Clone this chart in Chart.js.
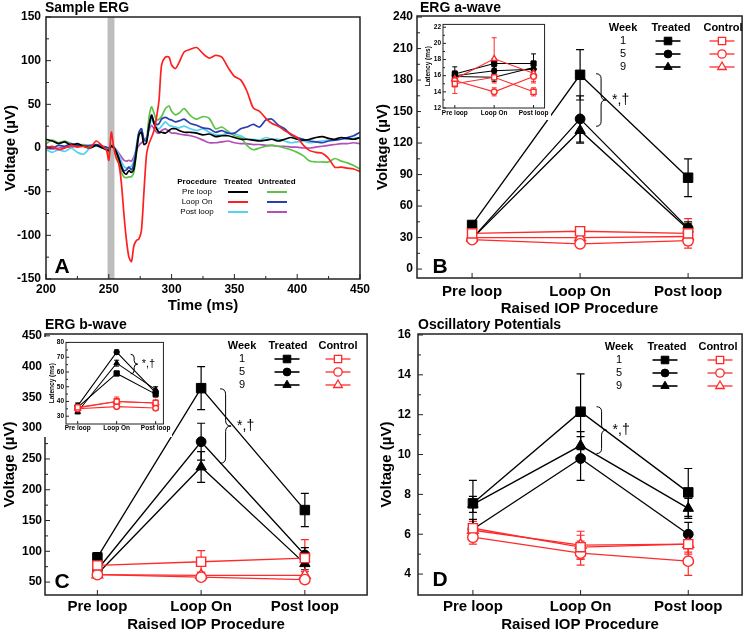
<!DOCTYPE html>
<html>
<head>
<meta charset="utf-8">
<script src="https://cdn.jsdelivr.net/npm/chart.js"></script>
<style>
body{margin:0;background:#fff;}
#wrap{position:relative;width:750px;height:632px;overflow:hidden;background:#fff;}
canvas{position:absolute;}
</style>
</head>
<body>
<div id="wrap">
<canvas id="pA" width="375" height="316" style="left:0;top:0"></canvas>
<canvas id="pB" width="375" height="316" style="left:375px;top:0"></canvas>
<canvas id="pC" width="375" height="316" style="left:0;top:316px"></canvas>
<canvas id="pD" width="375" height="316" style="left:375px;top:316px"></canvas>
<canvas id="iB" width="130" height="101" style="left:421px;top:19px;background:#fff"></canvas>
<canvas id="iC" width="128" height="100" style="left:44px;top:337px;background:#fff"></canvas>
</div>
<script>
// ---- panel A: sample ERG traces (µV) ----
const timeMs = [200,205,210,215,220,225,230,235,240,245,248,250,252,254,256,258,260,262,264,266,268,270,272,274,276,278,280,282,284,286,288,290,292,295,298,300,303,306,310,315,320,325,330,335,340,345,350,355,360,365,370,375,380,385,390,395,400,405,410,415,420,425,430,435,440,445,450];
const preTreated    = [10,8,5,7,3,5,2,0,3,0,-2,-3,2,0,-5,-12,-22,-28,-30,-26,-28,-24,-5,15,18,4,6,25,37,28,22,18,18,17,20,22,22,20,18,18,17,15,16,13,14,14,12,10,10,9,8,9,10,8,10,12,10,9,10,12,13,11,10,12,11,10,12];
const loopTreated   = [0,2,-2,0,3,1,2,0,8,2,-2,-14,18,0,-12,-18,-40,-75,-105,-125,-130,-112,-106,-104,-94,-50,-8,5,12,20,35,55,95,104,104,95,91,98,110,113,115,108,103,106,104,92,82,78,65,46,42,34,28,25,20,16,12,3,-3,-5,-6,-12,-22,-22,-23,-24,-27];
const postTreated   = [-2,-5,-2,-4,0,-5,-7,0,2,0,-1,-2,2,0,-3,-8,-15,-21,-23,-22,-21,-14,2,18,21,8,10,22,33,28,24,22,25,30,26,25,24,23,25,22,20,22,18,15,15,17,16,14,10,10,9,12,10,10,8,6,7,8,6,7,8,9,9,10,10,11,12];
const preUntreated  = [5,9,6,8,5,3,4,2,3,1,0,-8,4,0,-8,-18,-28,-33,-34,-33,-33,-28,-5,16,22,8,10,35,47,40,32,33,36,45,48,42,38,40,45,37,33,36,34,22,24,19,14,12,3,-2,0,2,3,2,0,-2,-5,-9,-15,-16,-16,-16,-12,-15,-17,-20,-24];
const loopUntreated = [2,0,3,2,5,3,2,3,4,2,1,0,2,1,-4,-12,-20,-26,-25,-22,-25,-18,0,18,22,10,8,25,38,30,27,28,33,35,33,32,30,31,33,28,26,23,22,18,20,17,17,22,24,27,24,32,33,26,22,15,12,10,8,7,6,8,9,10,12,14,18];
const postUntreated = [0,-1,0,1,1,2,3,2,3,1,-2,-2,3,1,-2,-6,-10,-14,-15,-14,-15,-10,-2,3,6,8,12,20,26,22,18,17,20,22,19,17,17,16,15,14,12,9,6,6,7,8,6,5,5,4,4,3,3,2,2,1,1,0,0,1,2,3,4,5,5,6,5];
const ergTicksX = [200,250,300,350,400,450];
const ergTicksY = [-150,-100,-50,0,50,100,150];
const stimulus = [249,254.5];

// ---- panels B–D: weeks 1, 5, 9 ----
const steps = ['Pre loop','Loop On','Post loop'];
const weeks = ['1','5','9'];

const aTreated    = [[42,185,87],[29,143,39],[29,132,38]];
const aTreatedErr = [[3,24,18],[3,22,6],[3,12,5]];
const aControl    = [[34,36,34],[28,24,27],[30,30,31]];
const aControlErr = [[3,3,14],[3,3,4],[3,3,5]];
const aTicks = [0,30,60,90,120,150,180,210,240];

const aLatTreated    = [[16.2,17.5,17.5],[16.0,16.6,16.8],[15.9,15.8,17.0]];
const aLatTreatedErr = [[0.9,0.6,1.2],[0.6,0.5,0.9],[0.6,0.5,0.8]];
const aLatControl    = [[15.0,15.8,14.0],[15.4,14.0,15.9],[15.6,18.1,16.3]];
const aLatControlErr = [[1.2,0.7,0.5],[0.8,0.5,0.8],[0.8,2.6,1.0]];
const aLatTicks = [12,14,16,18,20,22];

const bTreated    = [[90,365,167],[70,278,94],[63,237,80]];
const bTreatedErr = [[8,35,27],[8,30,12],[6,25,10]];
const bControl    = [[77,83,89],[62,58,54],[62,61,61]];
const bControlErr = [[6,18,30],[5,5,6],[5,5,6]];
const bTicks = [50,100,150,200,250,300,350,400,450];

const bLatTreated    = [[36,59,45],[37,73.5,46],[33,66,48]];
const bLatTreatedErr = [[2,1.5,2],[2,1.5,2],[1.5,2,2]];
const bLatControl    = [[36,40,39],[35,36.5,35.5],[35.5,40,39]];
const bLatControlErr = [[2,3,2],[1.5,1.5,1.5],[1.5,2,1.5]];
const bLatTicks = [30,40,50,60,70,80];

const opTreated    = [[7.55,12.15,8.1],[6.25,9.8,6.0],[7.5,10.45,7.3]];
const opTreatedErr = [[1.15,1.9,1.2],[0.5,1.1,0.6],[0.4,0.7,0.5]];
const opControl    = [[6.3,5.35,5.5],[5.85,5.05,4.65],[6.2,5.45,5.5]];
const opControlErr = [[0.35,0.6,0.5],[0.35,0.6,0.72],[0.3,0.7,0.4]];
const opTicks = [4,6,8,10,12,14,16];

const FONT = '"Liberation Sans", Arial, sans-serif';
Chart.defaults.font.family = FONT;
Chart.defaults.color = '#000';
Chart.defaults.animation = false;

const RED = '#ff2a2a';
const styles = ['rect','circle','triangle'];

function range(a, b, s) { const r = []; for (let v = a; v <= b + 1e-9; v += s) r.push(+v.toFixed(3)); return r; }

function mark(ctx, style, r, x, y) {
  ctx.beginPath();
  if (style === 'rect') { const s = r * Math.SQRT1_2; ctx.rect(x - s, y - s, 2 * s, 2 * s); }
  else if (style === 'circle') ctx.arc(x, y, r, 0, Math.PI * 2);
  else { ctx.moveTo(x, y - r); ctx.lineTo(x + r * 0.866, y + r / 2); ctx.lineTo(x - r * 0.866, y + r / 2); ctx.closePath(); }
  ctx.fill(); ctx.stroke();
}

function markerSets(tr, trErr, ctl, ctlErr, k) {
  const bR = {rect: 6.7, circle: 4.9, triangle: 6}, rR = {rect: 6.5, circle: 5.2, triangle: 6.2};
  const out = [];
  ctl.forEach((vals, j) => out.push({
    data: vals.map((v, i) => ({x: i, y: v})), err: ctlErr[j],
    borderColor: RED, borderWidth: 1.3 * Math.max(k, 0.8), pointStyle: styles[j],
    pointRadius: rR[styles[j]] * k, pointBackgroundColor: '#fff', pointBorderColor: RED, pointBorderWidth: 1.4
  }));
  tr.forEach((vals, j) => out.push({
    data: vals.map((v, i) => ({x: i, y: v})), err: trErr[j],
    borderColor: '#000', borderWidth: 1.3 * Math.max(k, 0.8), pointStyle: styles[j],
    pointRadius: bR[styles[j]] * k, pointBackgroundColor: '#000', pointBorderColor: '#000', pointBorderWidth: 1
  }));
  return out;
}

function drawBrace(ctx, x, y1, y2, w) {
  const ym = (y1 + y2) / 2;
  ctx.beginPath();
  ctx.moveTo(x, y1);
  ctx.quadraticCurveTo(x + w, y1, x + w, y1 + w);
  ctx.lineTo(x + w, ym - w);
  ctx.quadraticCurveTo(x + w, ym, x + 2 * w, ym);
  ctx.quadraticCurveTo(x + w, ym, x + w, ym + w);
  ctx.lineTo(x + w, y2 - w);
  ctx.quadraticCurveTo(x + w, y2, x, y2);
  ctx.stroke();
}

function decor(o) {
  return {
    id: 'decor',
    beforeDatasetsDraw(chart) {
      const {ctx, chartArea: ca, scales: {x, y}} = chart;
      ctx.save();
      if (o.band) {
        const x1 = x.getPixelForValue(o.band[0]), x2 = x.getPixelForValue(o.band[1]);
        ctx.fillStyle = '#bdbdbd';
        ctx.fillRect(x1, ca.top, x2 - x1, ca.bottom - ca.top);
      }
      const cap = o.cap || 4;
      chart.data.datasets.forEach(ds => {
        if (!ds.err) return;
        ctx.strokeStyle = ds.borderColor; ctx.lineWidth = o.errW || 1.2;
        ds.data.forEach((p, i) => {
          const px = x.getPixelForValue(p.x);
          const t = y.getPixelForValue(p.y + ds.err[i]), b = y.getPixelForValue(p.y - ds.err[i]);
          ctx.beginPath();
          ctx.moveTo(px, t); ctx.lineTo(px, b);
          ctx.moveTo(px - cap, t); ctx.lineTo(px + cap, t);
          ctx.moveTo(px - cap, b); ctx.lineTo(px + cap, b);
          ctx.stroke();
        });
      });
      ctx.restore();
    },
    afterDraw(chart) {
      const {ctx, chartArea: ca, scales: {x, y}} = chart;
      ctx.save();
      ctx.strokeStyle = '#222'; ctx.lineWidth = o.frameW || 1.5;
      ctx.strokeRect(ca.left, ca.top, ca.right - ca.left, ca.bottom - ca.top);
      ctx.lineWidth = 1;
      const tl = o.tickLen || [5, 3];
      const line = (a, b, c, d) => { ctx.beginPath(); ctx.moveTo(a, b); ctx.lineTo(c, d); ctx.stroke(); };
      (o.yMajor || []).forEach(v => { const p = y.getPixelForValue(v); line(ca.left, p, ca.left + tl[0], p); });
      (o.yMinor || []).forEach(v => { const p = y.getPixelForValue(v); line(ca.left, p, ca.left + tl[1], p); });
      (o.xMajor || []).forEach(v => { const p = x.getPixelForValue(v); line(p, ca.bottom, p, ca.bottom - tl[0]); });
      (o.xMinor || []).forEach(v => { const p = x.getPixelForValue(v); line(p, ca.bottom, p, ca.bottom - tl[1]); });
      ctx.fillStyle = '#000';
      ctx.textBaseline = 'middle';
      if (o.title) {
        ctx.textAlign = 'left'; ctx.font = 'bold 14px ' + FONT;
        ctx.fillText(o.title[0], o.title[1], o.title[2]);
      }
      if (o.letter) {
        ctx.textAlign = 'center'; ctx.font = 'bold 21px ' + FONT;
        ctx.fillText(o.letter[0], o.letter[1], o.letter[2]);
      }
      if (o.brace) {
        const B = o.brace, bx = x.getPixelForValue(1) + B.dx;
        ctx.strokeStyle = '#000'; ctx.lineWidth = 1;
        drawBrace(ctx, bx, y.getPixelForValue(B.vals[0]), y.getPixelForValue(B.vals[1]), B.w);
        ctx.textAlign = 'left'; ctx.font = B.font + 'px ' + FONT;
        ctx.fillText('*,\u2020', bx + 2 * B.w + B.gap, (y.getPixelForValue(B.vals[0]) + y.getPixelForValue(B.vals[1])) / 2);
      }
      if (o.legend) {
        const L = o.legend, ds = chart.data.datasets;
        ctx.textAlign = 'center'; ctx.font = 'bold 11px ' + FONT;
        ctx.fillText('Week', L.wx, L.hy); ctx.fillText('Treated', L.tx, L.hy); ctx.fillText('Control', L.cx, L.hy);
        weeks.forEach((w, i) => {
          const ry = L.rows[i];
          ctx.fillStyle = '#000'; ctx.font = '11px ' + FONT; ctx.fillText(w, L.wx, ry);
          const blk = ds[3 + i], red = ds[i];
          ctx.lineWidth = 1.6; ctx.strokeStyle = '#000'; line(L.sx - 12.5, ry, L.sx + 12.5, ry);
          ctx.fillStyle = '#000'; ctx.lineWidth = 1; mark(ctx, blk.pointStyle, blk.pointRadius * 0.8, L.sx, ry);
          ctx.strokeStyle = RED; ctx.lineWidth = 1.3; line(L.rx - 12.5, ry, L.rx + 12.5, ry);
          ctx.fillStyle = '#fff'; ctx.lineWidth = 1.3; mark(ctx, red.pointStyle, red.pointRadius * 0.8, L.rx, ry);
          ctx.fillStyle = '#000';
        });
      }
      if (o.ergLegend) o.ergLegend(ctx, chart, line);
      ctx.restore();
    }
  };
}

function panel(id, o) {
  return new Chart(document.getElementById(id), {
    type: 'line',
    data: {datasets: o.datasets},
    options: {
      responsive: false,
      animation: false,
      events: [],
      layout: {padding: o.pad},
      plugins: {legend: {display: false}, tooltip: {enabled: false}},
      scales: {
        x: {
          type: 'linear', min: o.xRange[0], max: o.xRange[1],
          afterBuildTicks: ax => { ax.ticks = o.xTicks.map(v => ({value: v})); },
          afterFit: ax => { ax.height = o.xH; },
          grid: {display: false, drawTicks: false}, border: {display: false},
          ticks: {autoSkip: false, maxRotation: 0, padding: o.xPad, color: '#000',
                  font: {size: o.tickFont[0], weight: 'bold', lineHeight: 1}, callback: o.xFmt || (v => v)},
          title: {display: !!o.xTitle, text: o.xTitle, color: '#000',
                  font: {size: o.titleFont, weight: 'bold', lineHeight: 1}, padding: {top: 0, bottom: o.xTitlePad || 0}}
        },
        y: {
          type: 'linear', min: o.yRange[0], max: o.yRange[1],
          afterBuildTicks: ax => { ax.ticks = o.yTicks.map(v => ({value: v})); },
          afterFit: ax => { ax.width = o.yW; },
          grid: {display: false, drawTicks: false}, border: {display: false},
          ticks: {autoSkip: false, padding: o.yPad, color: '#000', font: {size: o.tickFont[1], weight: 'bold', lineHeight: 1}},
          title: {display: true, text: o.yTitle, color: '#000',
                  font: {size: o.yTitleFont || o.titleFont, weight: 'bold', lineHeight: 1}, padding: {top: o.yTitlePad || 0, bottom: 0}}
        }
      }
    },
    plugins: [decor(o)]
  });
}

const stepFmt = v => steps[v];

// ---- A ----
const traces = [
  [loopTreated, '#ff1f1f'], [preTreated, '#000000'], [loopUntreated, '#2b3fae'],
  [postTreated, '#55d2ee'], [preUntreated, '#5cc444'], [postUntreated, '#b24fb8']
];
panel('pA', {
  datasets: traces.map(([vals, c]) => ({
    data: vals.map((v, i) => ({x: timeMs[i], y: v})),
    borderColor: c, borderWidth: 1.7, pointRadius: 0, tension: 0.25, fill: false
  })),
  pad: {left: 0, right: 12, top: 17, bottom: 0}, yW: 46, xH: 37, yPad: 5, xPad: 5,
  tickFont: [12, 12], titleFont: 15, yTitlePad: 3, xTitlePad: 3,
  xRange: [200, 450], xTicks: ergTicksX, yRange: [-150, 150], yTicks: ergTicksY,
  xTitle: 'Time (ms)', yTitle: 'Voltage (\u00b5V)', band: stimulus,
  yMajor: ergTicksY, yMinor: range(-125, 125, 50), xMajor: ergTicksX, xMinor: range(225, 425, 50),
  title: ['Sample ERG', 45, 8], letter: ['A', 62, 267],
  ergLegend(ctx, chart, line) {
    ctx.textAlign = 'center'; ctx.fillStyle = '#000';
    ctx.font = 'bold 8px ' + FONT;
    ctx.fillText('Procedure', 197, 182); ctx.fillText('Treated', 238, 182); ctx.fillText('Untreated', 277, 182);
    ctx.font = '8px ' + FONT;
    const rowsY = [192, 202, 212];
    const tcol = ['#000000', '#ff1f1f', '#55d2ee'], ucol = ['#5cc444', '#2b3fae', '#b24fb8'];
    steps.forEach((s, i) => {
      ctx.fillStyle = '#000'; ctx.fillText(s, 197, rowsY[i]);
      ctx.lineWidth = 2;
      ctx.strokeStyle = tcol[i]; line(228, rowsY[i], 248, rowsY[i]);
      ctx.strokeStyle = ucol[i]; line(267, rowsY[i], 287, rowsY[i]);
    });
  }
});

// ---- B ----
panel('pB', {
  datasets: markerSets(aTreated, aTreatedErr, aControl, aControlErr, 1),
  pad: {left: 0, right: 4, top: 16, bottom: 0}, yW: 42, xH: 38, yPad: 4, xPad: 6,
  tickFont: [15, 12], titleFont: 15, yTitlePad: 0, xTitlePad: 0,
  xRange: [-0.51, 2.5], xTicks: [0, 1, 2], xFmt: stepFmt, yRange: [-8.5, 241], yTicks: aTicks,
  xTitle: 'Raised IOP Procedure', yTitle: 'Voltage (\u00b5V)',
  yMajor: aTicks, yMinor: range(15, 225, 30), xMajor: [0, 1, 2],
  title: ['ERG a-wave', 45, 8], letter: ['B', 65, 267],
  brace: {vals: [186, 136], dx: 16, w: 5, gap: 6, font: 14},
  legend: {wx: 248, tx: 296, cx: 348, sx: 293, rx: 347, hy: 28, rows: [41, 54, 67]}
});

// ---- C ----
panel('pC', {
  datasets: markerSets(bTreated, bTreatedErr, bControl, bControlErr, 1),
  pad: {left: 0, right: 4, top: 18, bottom: 0}, yW: 45, xH: 37, yPad: 3, xPad: 4,
  tickFont: [15, 12], titleFont: 15, yTitlePad: 2, xTitlePad: 0,
  xRange: [-0.505, 2.6], xTicks: [0, 1, 2], xFmt: stepFmt, yRange: [29, 453], yTicks: bTicks,
  xTitle: 'Raised IOP Procedure', yTitle: 'Voltage (\u00b5V)',
  yMajor: bTicks, yMinor: range(75, 425, 50), xMajor: [0, 1, 2],
  title: ['ERG b-wave', 45, 9], letter: ['C', 62, 266],
  brace: {vals: [364, 243], dx: 19, w: 5.5, gap: 6, font: 14},
  legend: {wx: 242, tx: 288, cx: 338, sx: 287, rx: 338, hy: 30, rows: [43, 56, 69]}
});

// ---- D ----
panel('pD', {
  datasets: markerSets(opTreated, opTreatedErr, opControl, opControlErr, 1),
  pad: {left: 0, right: 4, top: 18, bottom: 0}, yW: 43, xH: 37, yPad: 7, xPad: 4,
  tickFont: [15, 12], titleFont: 15, yTitlePad: 4.5, xTitlePad: 0,
  xRange: [-0.51, 2.5], xTicks: [0, 1, 2], xFmt: stepFmt, yRange: [2.95, 16.05], yTicks: opTicks,
  xTitle: 'Raised IOP Procedure', yTitle: 'Voltage (\u00b5V)',
  yMajor: opTicks, yMinor: range(5, 15, 2), xMajor: [0, 1, 2],
  title: ['Oscillatory Potentials', 43, 9], letter: ['D', 65, 264],
  brace: {vals: [12.4, 10.05], dx: 16, w: 5, gap: 6, font: 14},
  legend: {wx: 244, tx: 292, cx: 343, sx: 290, rx: 345, hy: 31, rows: [44, 57, 70]}
});

// ---- insets (latency) ----
panel('iB', {
  datasets: markerSets(aLatTreated, aLatTreatedErr, aLatControl, aLatControlErr, 0.55),
  pad: {left: 0, right: 6, top: 3, bottom: 0}, yW: 22, xH: 12, yPad: 2, xPad: 2,
  tickFont: [6.5, 6.5], titleFont: 6.5, yTitlePad: 4, cap: 2.5, errW: 1, frameW: 1, tickLen: [3, 2],
  xRange: [-0.3, 2.28], xTicks: [0, 1, 2], xFmt: stepFmt, yRange: [12, 22.35], yTicks: aLatTicks,
  yTitle: 'Latency (ms)',
  yMajor: aLatTicks, yMinor: range(13, 21, 2), xMajor: [0, 1, 2]
});

panel('iC', {
  datasets: markerSets(bLatTreated, bLatTreatedErr, bLatControl, bLatControlErr, 0.55),
  pad: {left: 0, right: 7, top: 3, bottom: 0}, yW: 22, xH: 13, yPad: 2, xPad: 1,
  tickFont: [6.5, 6.5], titleFont: 6.5, yTitlePad: 5, cap: 2.5, errW: 1, frameW: 1, tickLen: [3, 2],
  xRange: [-0.3, 2.2], xTicks: [0, 1, 2], xFmt: stepFmt, yRange: [24.7, 80.1], yTicks: bLatTicks,
  yTitle: 'Latency (ms)',
  yMajor: bLatTicks, yMinor: range(35, 75, 10), xMajor: [0, 1, 2],
  brace: {vals: [72, 58.7], dx: 14, w: 3.5, gap: 4, font: 11}
});
</script>
</body>
</html>
